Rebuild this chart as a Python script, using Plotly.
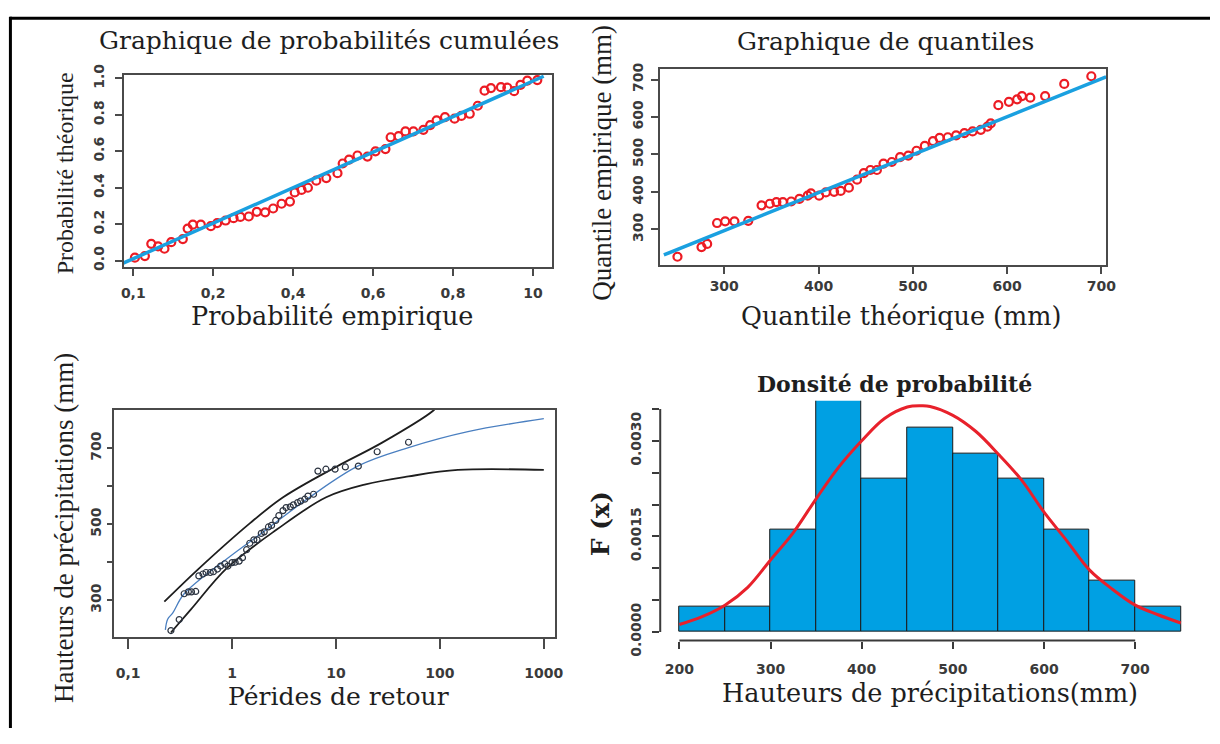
import plotly.graph_objects as go

W, H = 1220, 744

# ---------------- Panel 1 : probabilités cumulées ----------------
p1_emp = [0.004, 0.029, 0.045, 0.062, 0.078, 0.095, 0.124, 0.136, 0.149, 0.169,
          0.194, 0.210, 0.231, 0.251, 0.268, 0.289, 0.309, 0.330, 0.350, 0.371,
          0.392, 0.404, 0.421, 0.437, 0.458, 0.483, 0.511, 0.524, 0.540, 0.561,
          0.586, 0.606, 0.631, 0.644, 0.664, 0.681, 0.701, 0.726, 0.743, 0.759,
          0.780, 0.804, 0.821, 0.842, 0.862, 0.879, 0.895, 0.920, 0.936, 0.953,
          0.969, 0.986, 1.011]
p1_theo = [0.016, 0.025, 0.092, 0.078, 0.065, 0.101, 0.118, 0.176, 0.197, 0.197,
           0.189, 0.206, 0.220, 0.233, 0.240, 0.242, 0.268, 0.265, 0.286, 0.312,
           0.324, 0.374, 0.388, 0.400, 0.439, 0.453, 0.480, 0.533, 0.554, 0.577,
           0.571, 0.600, 0.612, 0.677, 0.683, 0.709, 0.709, 0.718, 0.744, 0.770,
           0.788, 0.779, 0.794, 0.806, 0.850, 0.933, 0.947, 0.952, 0.949, 0.930,
           0.965, 0.988, 0.991]
p1_line_x = [-0.025, 1.027]
p1_line_y = [-0.014, 1.012]
p1_xticks = [0.0, 0.2, 0.4, 0.6, 0.8, 1.0]
p1_xticktext = ["0,1", "0,2", "0,4", "0,6", "0,8", "10"]
p1_yticks = [0.0, 0.2, 0.4, 0.6, 0.8, 1.0]
p1_yticktext = ["0.0", "0.2", "0.4", "0.6", "0.8", "1.0"]

# ---------------- Panel 2 : quantiles ----------------
p2_theo = [250.4, 275.9, 281.9, 292.4, 301.0, 310.8, 325.5, 339.6, 348.3, 355.3,
           362.2, 371.0, 379.7, 388.5, 392.0, 400.7, 407.8, 416.5, 423.5, 432.2,
           440.9, 448.0, 455.0, 461.9, 468.9, 477.7, 486.5, 495.2, 503.9, 512.7,
           521.4, 528.4, 537.1, 545.9, 554.7, 563.4, 572.1, 579.1, 582.6, 590.7,
           601.9, 610.6, 615.8, 624.6, 640.3, 660.6, 689.3]
p2_emp = [227.2, 253.0, 261.4, 317.2, 321.6, 321.6, 323.1, 364.3, 368.6, 373.0,
          373.0, 374.6, 381.5, 390.0, 396.1, 390.0, 398.7, 400.3, 402.8, 411.6,
          432.9, 450.1, 458.6, 458.6, 475.8, 480.0, 492.8, 497.2, 510.0, 522.9,
          535.7, 544.2, 546.0, 551.2, 557.1, 561.4, 565.8, 574.3, 582.8, 631.6,
          640.4, 647.0, 655.8, 651.4, 655.8, 688.2, 708.7]
p2_line_x = [236, 705]
p2_line_y = [232, 707]
p2_ticks = [300, 400, 500, 600, 700]

# ---------------- Panel 3 : périodes de retour ----------------
p3_T = [0.258, 0.31, 0.346, 0.380, 0.407, 0.447, 0.479, 0.525, 0.562, 0.617,
        0.661, 0.724, 0.776, 0.851, 0.912, 1.0, 1.07, 1.17, 1.26, 1.38, 1.48,
        1.62, 1.74, 1.91, 2.04, 2.24, 2.40, 2.63, 2.82, 3.09, 3.31, 3.63, 3.89,
        4.27, 4.57, 5.01, 5.37, 6.08, 6.7, 8.0, 9.8, 12.3, 16.4, 24.9, 49.9]
p3_h = [220, 249, 317, 322, 322, 323, 364, 369, 373, 373, 375, 382, 390,
        396, 390, 399, 400, 403, 412, 433, 450, 459, 459, 476, 480, 493, 497,
        510, 523, 536, 544, 546, 551, 557, 561, 566, 574, 579, 640, 645, 645,
        651, 653, 691, 716]
p3_fit_T = [0.228, 0.24, 0.268, 0.346, 0.9, 2.0, 5.57, 16.7, 49.9, 186, 1000]
p3_fit_h = [222, 250, 266, 317, 410, 480, 571, 655, 702, 744, 778]
p3_up_T = [0.223, 0.465, 1.49, 3.1, 10, 27.8, 86, 95]
p3_up_h = [296, 380, 503, 571, 651, 715, 799, 812]
p3_lo_T = [0.258, 0.40, 0.895, 2.69, 8.04, 19.3, 49.9, 149, 1000]
p3_lo_h = [215, 275, 385, 486, 571, 605, 626, 643, 643]
p3_xticks = [0.1, 1, 10, 100, 1000]
p3_xticktext = ["0,1", "1", "10", "100", "1000"]
p3_yticks = [300, 400, 500, 600, 700]
p3_yticktext = ["300", "", "500", "", "700"]

# ---------------- Panel 4 : densité ----------------
p4_bin_left = [200, 250, 300, 350, 400, 450, 500, 550, 600, 650, 700]
p4_density = [0.0004, 0.0004, 0.0016, 0.0040, 0.0024, 0.0032, 0.0028,
              0.0024, 0.0016, 0.0008, 0.0004]
p4_curve_x = [200, 225, 250, 275, 300, 325, 350, 375, 400, 425, 450, 465, 475,
              500, 525, 550, 575, 600, 625, 650, 675, 700, 725, 750]
p4_curve_y = [0.000116, 0.00024, 0.00042, 0.0007, 0.00113, 0.00156, 0.00209,
              0.00259, 0.0030, 0.00335, 0.00353, 0.00355, 0.00354, 0.0034,
              0.00315, 0.00279, 0.00239, 0.00188, 0.00143, 0.00097, 0.00067,
              0.00042, 0.00027, 0.00014]
p4_xticks = [200, 300, 400, 500, 600, 700]
p4_yticks = [0.0, 0.0005, 0.0010, 0.0015, 0.0020, 0.0025, 0.0030, 0.0035]
p4_yticktext = ["0.0000", "", "", "0.0015", "", "", "0.0030", ""]

# ---------------- figure ----------------
RED = "#ec1c24"
BLUE = "#1aa0e0"


def xd(a, b):
    return [a / W, b / W]


def yd(top, bottom):
    return [1 - bottom / H, 1 - top / H]


fig = go.Figure()

# panel 1
fig.add_trace(go.Scatter(x=p1_emp, y=p1_theo, mode="markers", xaxis="x", yaxis="y",
                         marker=dict(symbol="circle-open", size=8, color=RED,
                                     line=dict(width=2.2, color=RED)),
                         showlegend=False))
fig.add_trace(go.Scatter(x=p1_line_x, y=p1_line_y, mode="lines", xaxis="x", yaxis="y",
                         line=dict(color=BLUE, width=3.5), showlegend=False))
# panel 2
fig.add_trace(go.Scatter(x=p2_theo, y=p2_emp, mode="markers", xaxis="x2", yaxis="y2",
                         marker=dict(symbol="circle-open", size=8, color=RED,
                                     line=dict(width=2.2, color=RED)),
                         showlegend=False))
fig.add_trace(go.Scatter(x=p2_line_x, y=p2_line_y, mode="lines", xaxis="x2", yaxis="y2",
                         line=dict(color=BLUE, width=3.5), showlegend=False))
# panel 3
fig.add_trace(go.Scatter(x=p3_up_T, y=p3_up_h, mode="lines", xaxis="x3", yaxis="y3",
                         line=dict(color="#1e1e1e", width=1.8, shape="spline"),
                         showlegend=False))
fig.add_trace(go.Scatter(x=p3_lo_T, y=p3_lo_h, mode="lines", xaxis="x3", yaxis="y3",
                         line=dict(color="#1e1e1e", width=1.8, shape="spline"),
                         showlegend=False))
fig.add_trace(go.Scatter(x=p3_fit_T, y=p3_fit_h, mode="lines", xaxis="x3", yaxis="y3",
                         line=dict(color="#4a7fc0", width=1.3, shape="spline"),
                         showlegend=False))
fig.add_trace(go.Scatter(x=p3_T, y=p3_h, mode="markers", xaxis="x3", yaxis="y3",
                         marker=dict(symbol="circle-open", size=6, color="#2b3340",
                                     line=dict(width=1.2, color="#2b3340")),
                         showlegend=False))
# panel 4
fig.add_trace(go.Bar(x=p4_bin_left, y=p4_density, width=50, offset=0,
                     xaxis="x4", yaxis="y4",
                     marker=dict(color="#00a0e3", line=dict(color="#1a1a1a", width=1)),
                     showlegend=False))
fig.add_trace(go.Scatter(x=p4_curve_x, y=p4_curve_y, mode="lines", xaxis="x4", yaxis="y4",
                         line=dict(color="#e8212b", width=3, shape="spline"),
                         showlegend=False))

tickfont = dict(family="DejaVu Sans", size=14, color="#3a3a3a", weight="bold")
box = dict(showline=True, mirror=True, linecolor="#4a4a4a", linewidth=2,
           ticks="outside", ticklen=7, tickwidth=2, tickcolor="#4a4a4a",
           showgrid=False, zeroline=False, tickfont=tickfont)

fig.update_layout(
    width=W, height=H, margin=dict(l=0, r=0, t=0, b=0),
    paper_bgcolor="white", plot_bgcolor="white", bargap=0,
    xaxis=dict(domain=xd(122, 555), range=[-0.024, 1.048], anchor="y",
               tickvals=p1_xticks, ticktext=p1_xticktext, ticklabelstandoff=5, **box),
    yaxis=dict(domain=yd(66, 266), range=[-0.037, 1.021], anchor="x",
               tickvals=p1_yticks, ticktext=p1_yticktext, tickangle=-90,
               ticklabelstandoff=5, **box),
    xaxis2=dict(domain=xd(664, 1115), range=[231.8, 705], anchor="y2",
                tickvals=p2_ticks, ticklabelstandoff=0, **box),
    yaxis2=dict(domain=yd(60, 264), range=[204.1, 728.5], anchor="x2",
                tickvals=p2_ticks, tickangle=-90, ticklabelstandoff=2, **box),
    xaxis3=dict(domain=xd(112, 558), type="log", range=[-1.138, 3.108], anchor="y3",
                tickvals=p3_xticks, ticktext=p3_xticktext, ticklabelstandoff=12,
                **{**box, "ticklen": 10}),
    yaxis3=dict(domain=yd(414, 650), range=[202, 801], anchor="x3",
                tickvals=p3_yticks, ticktext=p3_yticktext, tickangle=-90,
                ticklabelstandoff=0, **{**box, "ticklen": 5}),
    xaxis4=dict(domain=xd(664.3, 1196), range=[179, 756], anchor="y4",
                tickvals=p4_xticks, showline=False, ticks="outside", ticklen=7,
                tickwidth=2, tickcolor="#3a3a3a", showgrid=False, zeroline=False,
                tickfont=tickfont, ticklabelstandoff=9),
    yaxis4=dict(domain=yd(404.3, 653.3), range=[-0.000136, 0.003631], anchor="x4",
                tickvals=p4_yticks, ticktext=p4_yticktext, tickangle=-90,
                showline=False, ticks="outside", ticklen=7, tickwidth=2,
                tickcolor="#3a3a3a", showgrid=False, zeroline=False,
                tickfont=tickfont, ticklabelstandoff=6),
)

# R-style detached axis lines for the density panel
fig.add_shape(type="line", xref="x4", yref="paper", x0=p4_xticks[0], x1=p4_xticks[-1],
              y0=1 - 653.3 / H, y1=1 - 653.3 / H, line=dict(color="#3a3a3a", width=2))
fig.add_shape(type="line", xref="paper", yref="y4", x0=664.3 / W, x1=664.3 / W,
              y0=p4_yticks[0], y1=p4_yticks[-1], line=dict(color="#3a3a3a", width=2))

# outer frame (top and left edges visible)
fig.add_shape(type="line", xref="paper", yref="paper", x0=7 / W, x1=1, y0=1 - 7.5 / H,
              y1=1 - 7.5 / H, line=dict(color="black", width=3))
fig.add_shape(type="line", xref="paper", yref="paper", x0=7.5 / W, x1=7.5 / W, y0=0,
              y1=1 - 6 / H, line=dict(color="black", width=3))


def label(text, px, py, size, family="DejaVu Serif", angle=0, color="#1e1e1e"):
    fig.add_annotation(text=text, x=px / W, y=1 - py / H, xref="paper", yref="paper",
                       xanchor="center", yanchor="middle", showarrow=False,
                       textangle=angle, borderpad=0,
                       font=dict(family=family, size=size, color=color))


label("Graphique de probabilités cumulées", 330, 31, 25)
label("Graphique de quantiles", 892, 32, 25)
label("<b>Donsité de probabilité</b>", 901, 387, 22)
label("Probabilité empirique", 333, 316, 25.5)
label("Quantile théorique (mm)", 908, 316, 25.5)
label("Pérides de retour", 339, 711, 25)
label("Hauteurs de précipitations(mm)", 937, 708, 25.5)
label("Probabilité théorique", 63, 168, 24, family="Liberation Serif", angle=-90)
label("Quantile empirique (mm)", 606, 158, 27, family="Liberation Serif", angle=-90)
label("Hauteurs de précipitations (mm)", 61, 536, 27, family="Liberation Serif", angle=-90)
label("<b>F (x)</b>", 604, 532, 25, angle=-90)

fig.write_html("out.html")
